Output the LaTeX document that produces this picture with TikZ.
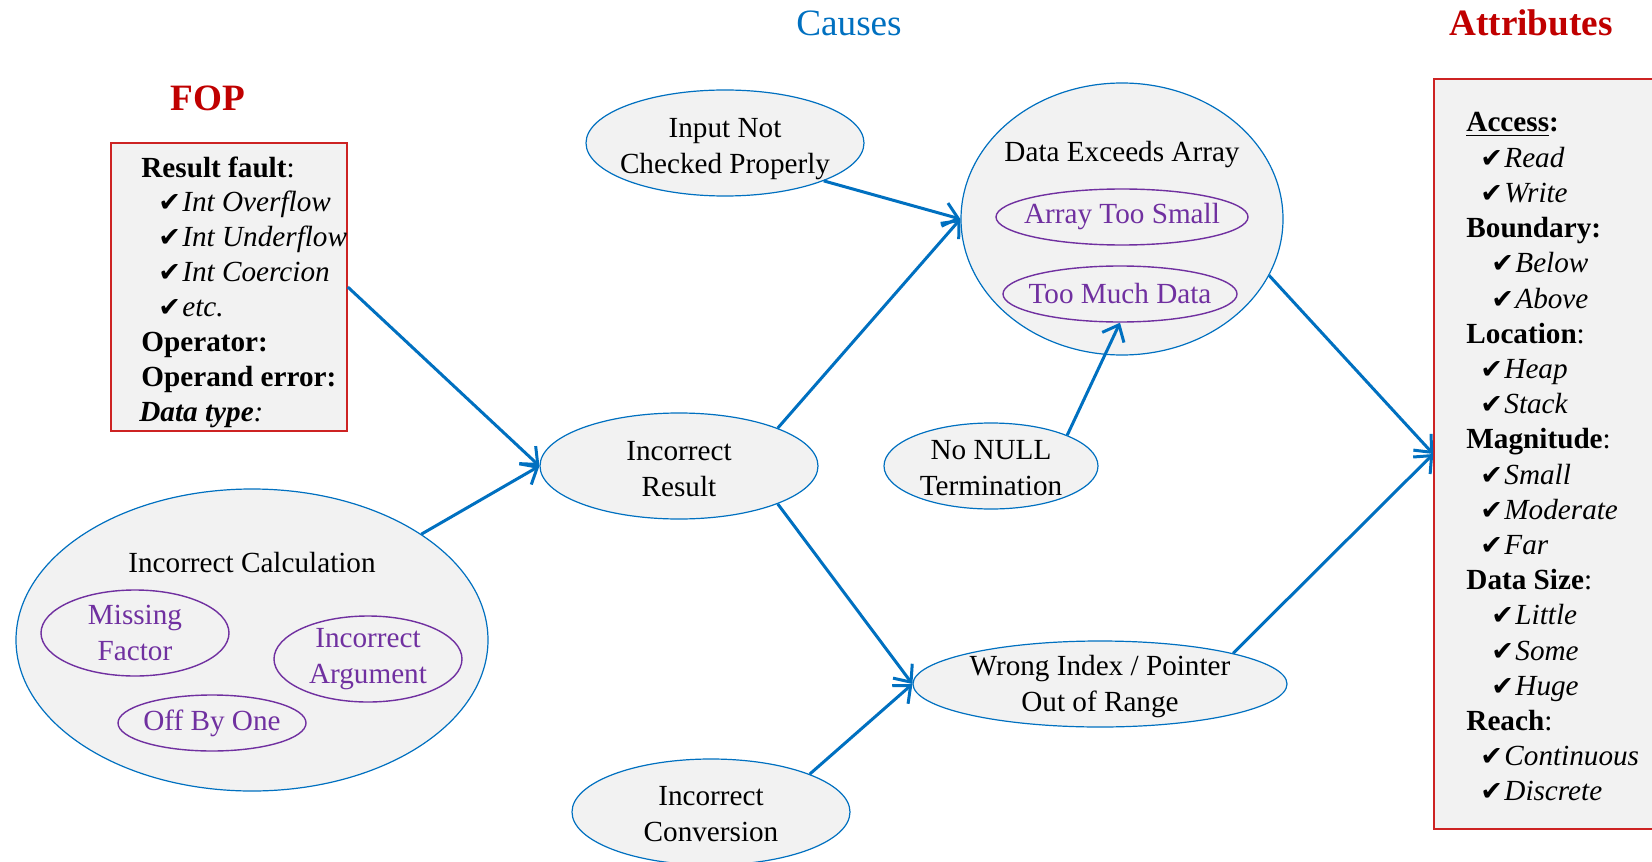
\documentclass[tikz,border=0pt]{standalone}
\usepackage{fontspec}
\setmainfont{Liberation Serif}
\newfontfamily\symfont{DejaVu Sans}
\usetikzlibrary{shapes.geometric,arrows.meta}

\definecolor{linkblue}{HTML}{0070C0}
\definecolor{headred}{HTML}{C00000}
\definecolor{boxred}{RGB}{205,35,35}
\definecolor{subpurple}{HTML}{7030A0}
\definecolor{shade}{HTML}{F2F2F2}

\newcommand{\chk}{\makebox[12pt][l]{\symfont\fontsize{13.5}{13.5}\selectfont ✔}}
\newcommand{\mainsize}{\fontsize{14.6}{18}\selectfont}
\newcommand{\titlesize}{\fontsize{18.6}{22}\selectfont}

\tikzset{
  cause/.style={ellipse, draw=linkblue, line width=0.6pt, fill=shade,
    inner xsep=-30pt, inner ysep=-10pt, align=center, font=\mainsize},
  sub/.style={ellipse, draw=subpurple, line width=0.7pt, text=subpurple,
    inner xsep=-30pt, inner ysep=-10pt, align=center, font=\mainsize},
  panel/.style={rectangle, draw=boxred, line width=0.8pt, fill=shade, inner sep=0pt},
  item/.style={anchor=base west, inner sep=0pt, font=\mainsize},
  title/.style={inner sep=0pt, font=\titlesize},
  label/.style={inner sep=0pt, font=\mainsize, align=center},
  link/.style={draw=linkblue, line width=1.5pt,
    -{Straight Barb[length=7pt,width=12pt,line width=1.5pt]}},
}

\begin{document}
\begin{tikzpicture}[x=0.5pt, y=-0.5pt]
\useasboundingbox (0,0) rectangle (1652,861);

% headings
\node[title, text=linkblue] (hcauses) at (849,23) {Causes};
\node[title, text=headred] (hattr) at (1531,23) {\textbf{Attributes}};
\node[title, text=headred] (hfop) at (208,98) {\textbf{FOP}};

% fault-of-operation panel
\node[panel, minimum width=118pt, minimum height=144pt] (fop) at (229,287) {};
\node[item] (f0) at (141,177.0) {\textbf{Result fault}:};
\node[item] (f1) at (158,211.9) {\chk\textit{Int Overflow}};
\node[item] (f2) at (158,246.8) {\chk\textit{Int Underflow}};
\node[item] (f3) at (158,281.7) {\chk\textit{Int Coercion}};
\node[item] (f4) at (158,316.6) {\chk\textit{etc.}};
\node[item] (f5) at (141,351.5) {\textbf{Operator:}};
\node[item] (f6) at (141,386.4) {\textbf{Operand error:}};
\node[item] (f7) at (139,421.3) {\textbf{\textit{Data type}}\textit{:}};

% attributes panel
\node[panel, minimum width=133pt, minimum height=375pt] (attr) at (1567,454) {};
\node[item] (a0)  at (1466,132.0) {\textbf{\underline{Access}:}};
\node[item] (a1)  at (1480,167.2) {\chk\textit{Read}};
\node[item] (a2)  at (1480,202.4) {\chk\textit{Write}};
\node[item] (a3)  at (1466,237.6) {\textbf{Boundary:}};
\node[item] (a4)  at (1491,272.8) {\chk\textit{Below}};
\node[item] (a5)  at (1491,308.0) {\chk\textit{Above}};
\node[item] (a6)  at (1466,343.2) {\textbf{Location}:};
\node[item] (a7)  at (1480,378.4) {\chk\textit{Heap}};
\node[item] (a8)  at (1480,413.6) {\chk\textit{Stack}};
\node[item] (a9)  at (1466,448.8) {\textbf{Magnitude}:};
\node[item] (a10) at (1480,484.0) {\chk\textit{Small}};
\node[item] (a11) at (1480,519.2) {\chk\textit{Moderate}};
\node[item] (a12) at (1480,554.4) {\chk\textit{Far}};
\node[item] (a13) at (1466,589.6) {\textbf{Data Size}:};
\node[item] (a14) at (1491,624.8) {\chk\textit{Little}};
\node[item] (a15) at (1491,660.0) {\chk\textit{Some}};
\node[item] (a16) at (1491,695.2) {\chk\textit{Huge}};
\node[item] (a17) at (1466,730.4) {\textbf{Reach}:};
\node[item] (a18) at (1480,765.6) {\chk\textit{Continuous}};
\node[item] (a19) at (1480,800.8) {\chk\textit{Discrete}};

% causes
\node[cause, minimum width=139pt, minimum height=53pt] (inp) at (725,143) {};
\node[label] (inpl) at (725,149) {Input Not\\Checked Properly};
\node[cause, minimum width=161pt, minimum height=136pt] (dea) at (1122,219) {};
\node[label] (deal) at (1122,155) {Data Exceeds Array};
\node[sub, minimum width=126pt, minimum height=28pt] (ats) at (1122,217) {Array Too Small};
\node[sub, minimum width=117pt, minimum height=28pt] (tmd) at (1120,294) {Too Much Data};
\node[cause, minimum width=139pt, minimum height=53pt] (res) at (679,466) {};
\node[label] (resl) at (679,469) {Incorrect\\Result};
\node[cause, minimum width=107pt, minimum height=43pt] (nul) at (991,466) {};
\node[label] (null) at (991,468) {No NULL\\Termination};
\node[cause, minimum width=187pt, minimum height=43pt] (wrg) at (1100,684) {};
\node[label] (wrgl) at (1100,687) {Wrong Index / Pointer\\Out of Range};
\node[cause, minimum width=139pt, minimum height=53pt] (cnv) at (711,812) {};
\node[label] (cnvl) at (711,814) {Incorrect\\Conversion};

\node[cause, minimum width=236pt, minimum height=151pt] (calc) at (252,640) {};
\node[label] (calcl) at (252,563) {Incorrect Calculation};
\node[sub, minimum width=94pt, minimum height=43pt] (mf) at (135,633) {Missing\\Factor};
\node[sub, minimum width=94pt, minimum height=43pt] (ia) at (368,659) {Incorrect\\Argument};
\node[sub, minimum width=94pt, minimum height=28pt] (obo) at (212,723) {Off By One};

% connectors
\draw[link] (fop.east) -- (res.west);
\draw[link] (calc.32.6) -- (res.west);
\draw[link] (inp.-21.3) -- (dea.west);
\draw[link] (res.21.9) -- (dea.west);
\draw[link] (res.-21.4) -- (wrg.west);
\draw[link] (nul.22.6) -- (tmd.south);
\draw[link] (cnv.21.2) -- (wrg.west);
\draw[link] (dea.-21.1) -- (attr.west);
\draw[link] (wrg.13.7) -- (attr.west);
\end{tikzpicture}
\end{document}
